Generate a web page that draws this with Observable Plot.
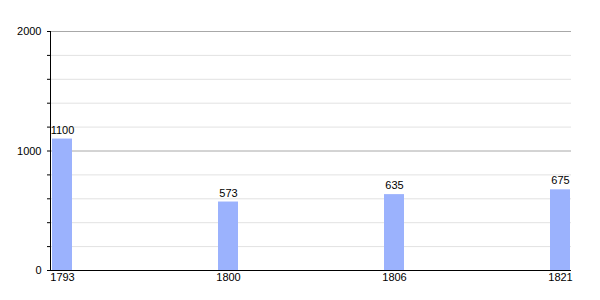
<!DOCTYPE html>
<html>
<head>
<meta charset="utf-8">
<script src="https://cdn.jsdelivr.net/npm/d3@7"></script>
<script src="https://cdn.jsdelivr.net/npm/@observablehq/plot@0.6"></script>
<style>
  html, body { margin: 0; padding: 0; background: #fff; }
  #chart svg { display: block; }
</style>
</head>
<body>
<div id="chart"></div>
<script>
// Population by census year
const years = ["1793", "1800", "1806", "1821"];
const population = [1100, 573, 635, 675];

// Gridline / tick values
const minorTicks = [200, 400, 600, 800, 1200, 1400, 1600, 1800];
const majorTicks = [1000, 2000];
const allTicks = [0, 200, 400, 600, 800, 1000, 1200, 1400, 1600, 1800, 2000];

const data = years.map((year, i) => ({year, value: population[i]}));

const chart = Plot.plot({
  width: 600,
  height: 300,
  marginLeft: 50,
  marginRight: 29,
  marginTop: 31,
  marginBottom: 30,
  style: {fontFamily: "'Liberation Sans', Arial, sans-serif", fontSize: "11px", color: "#000", background: "#fff"},
  x: {domain: years, paddingInner: 0.88, paddingOuter: 0, label: null},
  y: {domain: [0, 2000], label: null},
  marks: [
    Plot.ruleY(minorTicks, {stroke: "#e2e2e2", strokeWidth: 1}),
    Plot.ruleY(majorTicks, {stroke: "#a8a8a8", strokeWidth: 1}),
    Plot.barY(data, {x: "year", y: "value", fill: "#9bb2fd", insetLeft: 0, insetRight: 0}),
    Plot.text(data, {x: "year", y: "value", text: d => String(d.value), dy: -9, fill: "#000", fontSize: 11}),
    Plot.axisY({ticks: allTicks, tickFormat: d => d % 1000 === 0 ? String(d) : "", tickSize: 3, tickPadding: 6, stroke: "#000", fontSize: 11}),
    Plot.axisX({tickSize: 0, tickPadding: 3, fontSize: 11}),
    Plot.ruleY([0], {stroke: "#000", strokeWidth: 1}),
    Plot.frame({anchor: "left", stroke: "#000", strokeWidth: 1})
  ]
});
document.getElementById("chart").appendChild(chart);
</script>
</body>
</html>
